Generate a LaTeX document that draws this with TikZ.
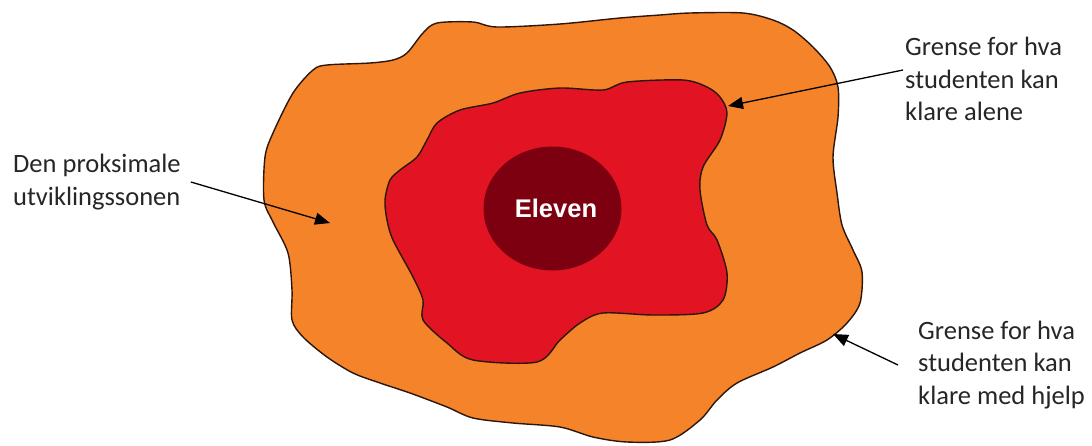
\documentclass[tikz,border=0pt]{standalone}
\usepackage{fontspec}
\setmainfont{Carlito}
\newfontfamily\elevfont{Liberation Sans}
\usetikzlibrary{arrows.meta,shapes.geometric}
\definecolor{zpdorange}{RGB}{245,131,42}
\definecolor{zpdred}{RGB}{226,20,36}
\definecolor{zpddark}{RGB}{125,0,16}
\definecolor{rimcol}{RGB}{45,22,10}
\definecolor{labelgray}{RGB}{38,38,38}
\tikzset{
  rim/.style={draw=rimcol, line width=1.4pt, line join=round},
  lbl/.style={font=\fontsize{26.5}{32.5}\selectfont, align=left, inner sep=0pt, text=labelgray},
  arr/.style={draw=black, line width=1.3pt, -{Triangle[length=15pt,width=12pt]}},
}
\begin{document}
\begin{tikzpicture}[x=1pt,y=-1pt]
\useasboundingbox (0,0) rectangle (1092,445);
% outer zone
\draw[rim, fill=zpdorange] plot[smooth cycle, tension=0.5] coordinates {
 (437,23) (473,22) (497,27) (560,24) (620,18) (660,15) (690,13) (743,13)
 (773,20) (793,30) (813,47) (830,67) (838,87) (838,117) (833,157) (837,193)
 (842,225) (853,250) (862,272) (860,303) (847,323) (827,340) (800,353)
 (773,367) (737,383) (717,400) (700,420) (670,440) (627,442) (593,437)
 (560,427) (513,423) (473,418) (447,407) (410,393) (380,383) (353,373)
 (327,357) (303,337) (292,320) (292,290) (288,253) (273,222) (264,200)
 (265,157) (273,133) (293,93) (313,70) (327,65) (370,63) (393,60) (407,53) (423,33)};
% inner zone
\draw[rim, fill=zpdred] plot[smooth cycle, tension=0.5] coordinates {
 (560,88) (603,90) (627,82) (683,80) (707,87) (720,97) (727,113) (720,140)
 (703,167) (700,190) (707,225) (717,240) (727,273) (723,300) (703,313)
 (653,315) (603,313) (580,323) (560,340) (537,362) (473,360) (447,343)
 (423,320) (423,300) (413,277) (393,240) (387,220) (385,200) (390,180)
 (400,170) (417,157) (427,140) (437,123) (460,110) (493,103) (520,93)};
% the learner
\node[ellipse, fill=zpddark, minimum width=138pt, minimum height=124pt, inner sep=0pt] (core) at (552.5,208.5) {};
\node[font=\elevfont\bfseries\fontsize{25.5}{30}\selectfont, text=white, inner sep=0pt] (eleven) at (556,208) {Eleven};
% labels
\node[lbl, anchor=west] (zpd) at (13,182) {Den proksimale\\utviklingssonen};
\node[lbl, anchor=west] (alone) at (905,79) {Grense for hva\\studenten kan\\klare alene};
\node[lbl, anchor=west] (help) at (918,365) {Grense for hva\\studenten kan\\klare med hjelp};
% arrow targets
\coordinate (tA) at (330,223);
\coordinate (tB) at (728,106);
\coordinate (tC) at (833,334);
\draw[arr] ([xshift=10pt]zpd.east) -- (tA);
\draw[arr] ([xshift=-2pt,yshift=9pt]alone.west) -- (tB);
\draw[arr] ([xshift=-20pt]help.west) -- (tC);
\end{tikzpicture}
\end{document}
